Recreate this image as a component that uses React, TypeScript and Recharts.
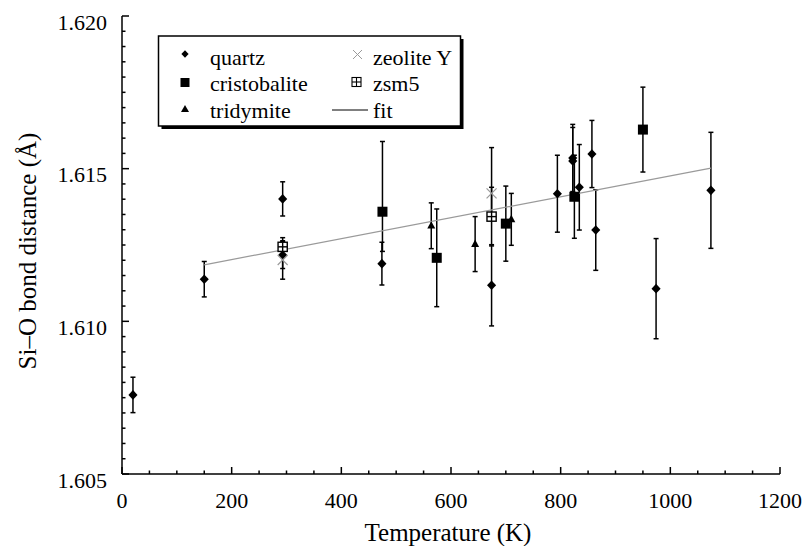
import React from 'react';
import { ScatterChart, Scatter, XAxis, YAxis, ErrorBar } from 'recharts';

// ---------- data ----------
const quartzT = [20, 150, 293, 293, 474, 674, 794, 822, 822, 834, 857, 864, 974, 1074];
const quartzD = [1.60759, 1.61138, 1.61401, 1.61217, 1.61189, 1.61118, 1.61418, 1.61535, 1.61525, 1.61439, 1.61548, 1.61299, 1.61107, 1.61429];
const quartzE = [0.00058, 0.00058, 0.00056, 0.00044, 0.0007, 0.00133, 0.00126, 0.0011, 0.0011, 0.0014, 0.0011, 0.00132, 0.00164, 0.0019];

const cristT = [475, 574, 700, 825, 950];
const cristD = [1.61359, 1.61208, 1.6132, 1.61408, 1.61628];
const cristE: (number | [number, number])[] = [[0.0013, 0.0023], 0.0016, 0.00123, 0.00136, 0.00139];

const tridT = [564, 644, 710];
const tridD = [1.61313, 1.61253, 1.61334];
const tridE = [0.00075, 0.0009, 0.00085];

const zeoT = [293, 674];
const zeoD = [1.61201, 1.61419];
const zeoE: (number | [number, number])[] = [0.00063, [0.00075, 0.0015]];

const zsmT = [293, 674];
const zsmD = [1.61244, 1.61343];
const zsmE = [0.0003, 0.00096];

const fitT = [150, 1074];
const fitD = [1.61185, 1.61502];

const xTickLabels = ['0', '200', '400', '600', '800', '1000', '1200'];
const yTickLabels = ['1.605', '1.610', '1.615', '1.620'];
const xMinorStep = 50;
const yMinorStep = 0.0005;

const zip = (ts: number[], ds: number[], es?: any[]) =>
  ts.map((t, i) => ({ t, d: ds[i], e: es ? es[i] : 0 }));

const quartz = zip(quartzT, quartzD, quartzE);
const crist = zip(cristT, cristD, cristE);
const trid = zip(tridT, tridD, tridE);
const zeo = zip(zeoT, zeoD, zeoE);
const zsm = zip(zsmT, zsmD, zsmE);
const fit = zip(fitT, fitD);

const xMin = 0, xMax = 1200, yMin = 1.605, yMax = 1.62;
const xTicks = Array.from({ length: Math.round((xMax - xMin) / xMinorStep) + 1 }, (_, i) => xMin + i * xMinorStep);
const yTicks = Array.from({ length: Math.round((yMax - yMin) / yMinorStep) + 1 }, (_, i) => +(yMin + i * yMinorStep).toFixed(4));

const FONT = "'Liberation Serif', Tinos, 'Times New Roman', Times, 'DejaVu Serif', serif";
const TXT: React.CSSProperties = { fontFamily: FONT };
const GRAY = '#9a9a9a';

// ---------- shapes ----------
const diamondPath = (cx: number, cy: number, s: number) =>
  `M${cx},${cy - s}L${cx + s * 0.95},${cy}L${cx},${cy + s}L${cx - s * 0.95},${cy}Z`;
const DiamondShape = (p: any) => <path d={diamondPath(p.cx, p.cy, 4.8)} fill="#000" />;
const SquareShape = (p: any) => <rect x={p.cx - 5} y={p.cy - 5} width={10} height={10} fill="#000" />;
const TriangleShape = (p: any) => (
  <path d={`M${p.cx},${p.cy - 4.5}L${p.cx + 4},${p.cy + 2.8}L${p.cx - 4},${p.cy + 2.8}Z`} fill="#000" />
);
const CrossShape = (p: any) => (
  <g stroke={GRAY} strokeWidth={1.2}>
    <line x1={p.cx - 5} y1={p.cy - 5} x2={p.cx + 5} y2={p.cy + 5} />
    <line x1={p.cx - 5} y1={p.cy + 5} x2={p.cx + 5} y2={p.cy - 5} />
  </g>
);
const BoxPlusShape = (p: any) => (
  <g stroke="#000" strokeWidth={1.4} fill="#fff">
    <rect x={p.cx - 4.6} y={p.cy - 4.6} width={9.2} height={9.2} />
    <line x1={p.cx - 4.6} y1={p.cy} x2={p.cx + 4.6} y2={p.cy} />
    <line x1={p.cx} y1={p.cy - 4.6} x2={p.cx} y2={p.cy + 4.6} />
  </g>
);
const NoShape = () => <g />;

// ---------- ticks ----------
const isMajorX = (v: number) => Math.round(v) % 200 === 0;
const isMajorY = (v: number) => Math.abs(Math.round(v * 200) - v * 200) < 1e-6;

const BottomTick = (p: any) => {
  const { x, y, payload } = p;
  const v = payload.value;
  const major = isMajorX(v);
  return (
    <g>
      <line x1={x} y1={y} x2={x} y2={y - (major ? 7 : 3.5)} stroke="#000" strokeWidth={1.5} />
      {major && (
        <text x={x} y={y + 34} textAnchor="middle" style={TXT} fontSize={22} fill="#000">
          {xTickLabels[Math.round(v / 200)]}
        </text>
      )}
    </g>
  );
};
const TopTick = (p: any) => {
  const { x, y, payload } = p;
  const major = isMajorX(payload.value);
  return <line x1={x} y1={y} x2={x} y2={y + (major ? 7 : 3.5)} stroke="#000" strokeWidth={1.5} />;
};
const LeftTick = (p: any) => {
  const { x, y, payload } = p;
  const v = payload.value;
  const major = isMajorY(v);
  const idx = Math.round((v - yMin) / 0.005);
  return (
    <g>
      <line x1={x} y1={y} x2={x + (major ? 7 : 3.5)} y2={y} stroke="#000" strokeWidth={1.5} />
      {major && (
        <text x={x - 15} y={y + 13.5} textAnchor="end" style={TXT} fontSize={22} fill="#000">
          {yTickLabels[idx]}
        </text>
      )}
    </g>
  );
};
const RightTick = (p: any) => {
  const { x, y, payload } = p;
  const major = isMajorY(payload.value);
  return <line x1={x} y1={y} x2={x - (major ? 7 : 3.5)} y2={y} stroke="#000" strokeWidth={1.5} />;
};

const axisLine = { stroke: '#000', strokeWidth: 1.5 };

const XLabel = (p: any) => {
  const vb = p.viewBox;
  return (
    <text x={vb.x + vb.width / 2 - 3} y={vb.y + 67} textAnchor="middle" style={TXT} fontSize={25} fill="#000">
      Temperature (K)
    </text>
  );
};
const YLabel = (p: any) => {
  const vb = p.viewBox;
  const cx = 36;
  const cy = vb.y + vb.height / 2 + 6;
  return (
    <text x={cx} y={cy} transform={`rotate(-90 ${cx} ${cy})`} textAnchor="middle" style={TXT} fontSize={25} fill="#000">
      Si–O bond distance (Å)
    </text>
  );
};

const errProps = { dataKey: 'e', direction: 'y' as const, width: 2.5, stroke: '#000', strokeWidth: 1.5 };

const Legend = () => (
  <svg width={805} height={546} style={{ position: 'absolute', left: 0, top: 0, pointerEvents: 'none' }}>
    <rect x={161.5} y={39} width={302} height={90} fill="#000" />
    <rect x={158.5} y={36} width={302} height={90} fill="#fff" stroke="#000" strokeWidth={1.5} />
    <g style={TXT} fontSize={22} fill="#000">
      <path d={diamondPath(185, 54, 3.8)} fill="#000" />
      <text x={210} y={65} style={TXT}>quartz</text>
      <rect x={180.5} y={78} width={9} height={9} fill="#000" />
      <text x={210} y={91} style={TXT}>cristobalite</text>
      <path d="M185,105L189,112L181,112Z" fill="#000" />
      <text x={210} y={118} style={TXT}>tridymite</text>
      <g stroke={GRAY} strokeWidth={1}>
        <line x1={353} y1={50} x2={362} y2={59} />
        <line x1={353} y1={59} x2={362} y2={50} />
      </g>
      <text x={373} y={65} style={TXT}>zeolite Y</text>
      <g stroke="#000" strokeWidth={1.1} fill="none">
        <rect x={352} y={77.5} width={9} height={9} />
        <line x1={352} y1={82} x2={361} y2={82} />
        <line x1={356.5} y1={77.5} x2={356.5} y2={86.5} />
      </g>
      <text x={373} y={91} style={TXT}>zsm5</text>
      <line x1={332} y1={110} x2={368} y2={110} stroke="#000" strokeWidth={1} />
      <text x={373} y={118} style={TXT}>fit</text>
    </g>
  </svg>
);

export default function App() {
  return (
    <div style={{ position: 'absolute', left: 0, top: 0, width: 805, height: 546, background: '#fff', fontFamily: FONT }}>
      <ScatterChart width={805} height={546} margin={{ top: 16, right: 25, bottom: 0, left: 0 }}>
        <XAxis
          xAxisId="b"
          type="number"
          dataKey="t"
          domain={[xMin, xMax]}
          ticks={xTicks}
          interval={0}
          height={72}
          tickSize={0}
          tickMargin={0}
          tickLine={false}
          axisLine={axisLine}
          tick={BottomTick}
          allowDataOverflow
          label={<XLabel />}
        />
        <XAxis
          xAxisId="t"
          orientation="top"
          type="number"
          dataKey="t"
          domain={[xMin, xMax]}
          ticks={xTicks}
          interval={0}
          height={0}
          tickSize={0}
          tickMargin={0}
          tickLine={false}
          axisLine={axisLine}
          tick={TopTick}
          allowDataOverflow
        />
        <YAxis
          yAxisId="l"
          type="number"
          dataKey="d"
          domain={[yMin, yMax]}
          ticks={yTicks}
          interval={0}
          width={122}
          tickSize={0}
          tickMargin={0}
          tickLine={false}
          axisLine={axisLine}
          tick={LeftTick}
          allowDataOverflow
          label={<YLabel />}
        />
        <YAxis
          yAxisId="r"
          orientation="right"
          type="number"
          dataKey="d"
          domain={[yMin, yMax]}
          ticks={yTicks}
          interval={0}
          width={0}
          tickSize={0}
          tickMargin={0}
          tickLine={false}
          axisLine={axisLine}
          tick={RightTick}
          allowDataOverflow
        />
        <Scatter xAxisId="b" yAxisId="l" data={fit} line={{ stroke: GRAY, strokeWidth: 1.2 }} shape={NoShape} isAnimationActive={false} />
        <Scatter xAxisId="b" yAxisId="l" data={quartz} shape={DiamondShape} isAnimationActive={false}>
          <ErrorBar {...errProps} />
        </Scatter>
        <Scatter xAxisId="b" yAxisId="l" data={crist} shape={SquareShape} isAnimationActive={false}>
          <ErrorBar {...errProps} />
        </Scatter>
        <Scatter xAxisId="b" yAxisId="l" data={trid} shape={TriangleShape} isAnimationActive={false}>
          <ErrorBar {...errProps} />
        </Scatter>
        <Scatter xAxisId="b" yAxisId="l" data={zeo} shape={CrossShape} isAnimationActive={false}>
          <ErrorBar {...errProps} />
        </Scatter>
        <Scatter xAxisId="b" yAxisId="l" data={zsm} shape={BoxPlusShape} isAnimationActive={false}>
          <ErrorBar {...errProps} />
        </Scatter>
      </ScatterChart>
      <Legend />
    </div>
  );
}
